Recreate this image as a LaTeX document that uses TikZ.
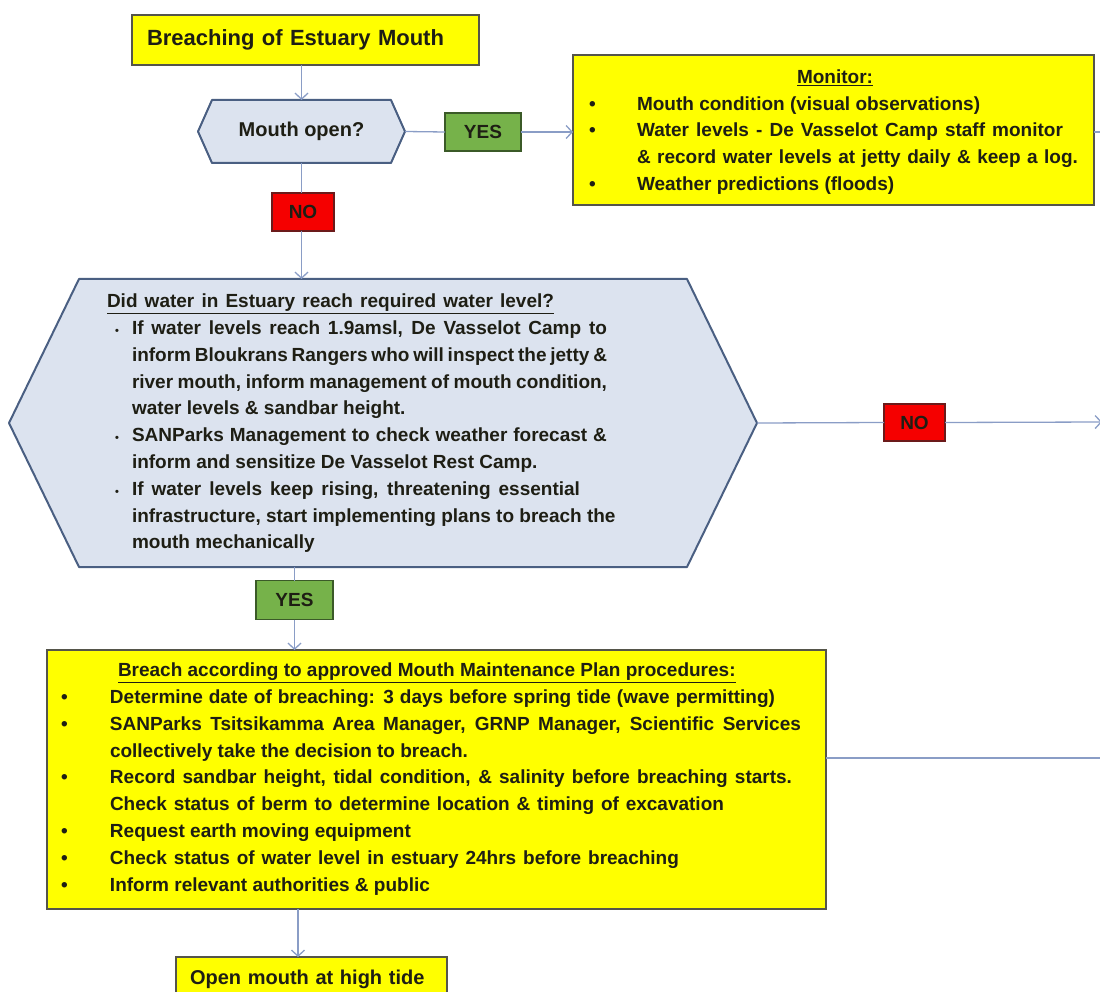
\documentclass[tikz,border=0pt]{standalone}
\usepackage{fontspec}
\setmainfont{Liberation Sans}
\usetikzlibrary{arrows.meta,backgrounds}

\definecolor{boxyellow}{HTML}{FFFF00}
\definecolor{boxedge}{HTML}{55554A}
\definecolor{hexfill}{HTML}{DCE3EF}
\definecolor{hexedge}{HTML}{4A5F82}
\definecolor{wirecol}{HTML}{8A9DC6}
\definecolor{yesfill}{HTML}{76B24A}
\definecolor{yesedge}{HTML}{3B5A28}
\definecolor{nofill}{HTML}{F50000}
\definecolor{noedge}{HTML}{6B1A1A}
\definecolor{ink}{HTML}{1E1E14}

% body text: bold sans, fixed line pitch
\newcommand{\bodyfont}{\fontsize{19}{26.8}\selectfont\bfseries}
% bullets for the hexagon list and for the box lists
\newcommand{\hexbullet}{\makebox[25pt][l]{\hspace*{8pt}{\fontsize{11}{11}\selectfont\textbullet}}}
\newcommand{\hexindent}{\hspace*{25pt}}
\newcommand{\boxbullet}[1]{\makebox[#1][l]{\textbullet}}
% a line spread to a given width (justified line)
\newcommand{\spread}[2]{\makebox[#1][s]{#2}}

\tikzset{
  yellowbox/.style={draw=boxedge, line width=1.6pt, fill=boxyellow, inner sep=0pt, outer sep=0pt, text=ink},
  hexnode/.style={inner sep=0pt, outer sep=0pt, text=ink},
  hexline/.style={draw=hexedge, line width=2pt, fill=hexfill, line join=round},
  tag/.style={line width=1.4pt, inner sep=0pt, outer sep=0pt, text=ink,
              font=\fontsize{19}{19}\selectfont\bfseries},
  yestag/.style={tag, fill=yesfill, draw=yesedge},
  notag/.style={tag, fill=nofill, draw=noedge},
  wire/.style={draw=wirecol, line width=1.3pt},
  flow/.style={wire, -{Straight Barb[length=6pt,width=13pt]}},
  textblock/.style={anchor=north west, inner sep=0pt, outer sep=0pt, align=left,
                    font=\bodyfont, text=ink}
}

\begin{document}
\begin{tikzpicture}[x=1pt, y=-1pt]
\useasboundingbox (0,0) rectangle (1100,992);

% ---- start box ----
\node[yellowbox, minimum width=347pt, minimum height=50pt, text width=317pt, align=left,
      font=\fontsize{22}{22}\selectfont\bfseries] (start) at (305.5,40) {Breaching of Estuary Mouth};

% ---- first decision ----
\node[hexnode, minimum width=207pt, minimum height=63pt,
      font=\fontsize{20}{20}\selectfont\bfseries] (q1) at (301.5,131.5) {Mouth open?};
\begin{scope}[on background layer]
  \draw[hexline] (q1.west) -- ([xshift=14pt]q1.north west) -- ([xshift=-14pt]q1.north east)
    -- (q1.east) -- ([xshift=-14pt]q1.south east) -- ([xshift=14pt]q1.south west) -- cycle;
\end{scope}

\node[yestag, minimum width=76pt, minimum height=38pt] (yes1) at (483,132) {YES};
\node[notag, minimum width=62pt, minimum height=38pt] (no1) at (303,212) {NO};

% ---- monitoring box ----
\node[yellowbox, minimum width=521pt, minimum height=150pt] (mon) at (833.5,130) {};
\node[textblock] (montext) at (589,69.5) {%
  \hspace*{208pt}\underline{Monitor:}\\
  \boxbullet{48pt}Mouth condition (visual observations)\\
  \boxbullet{48pt}\spread{426pt}{Water levels - De Vasselot Camp staff monitor}\\
  \hspace*{48pt}\spread{441pt}{\& record water levels at jetty daily \& keep a log.}\\
  \boxbullet{48pt}Weather predictions (floods)};

% ---- second decision ----
\node[hexnode, minimum width=748pt, minimum height=288pt] (q2) at (383,423) {};
\begin{scope}[on background layer]
  \draw[hexline] (q2.west) -- ([xshift=70pt]q2.north west) -- ([xshift=-70pt]q2.north east)
    -- (q2.east) -- ([xshift=-70pt]q2.south east) -- ([xshift=70pt]q2.south west) -- cycle;
\end{scope}
\node[textblock] (q2text) at (107,294) {%
  \underline{\spread{447pt}{Did water in Estuary reach required water level?}}\\
  \hexbullet\spread{475pt}{If water levels reach 1.9amsl, De Vasselot Camp to}\\
  \hexindent\spread{475pt}{inform Bloukrans Rangers who will inspect the jetty \&}\\
  \hexindent\spread{475pt}{river mouth, inform management of mouth condition,}\\
  \hexindent water levels \& sandbar height.\\
  \hexbullet\spread{475pt}{SANParks Management to check weather forecast \&}\\
  \hexindent inform and sensitize De Vasselot Rest Camp.\\
  \hexbullet\spread{448pt}{If water levels keep rising, threatening essential}\\
  \hexindent infrastructure, start implementing plans to breach the\\
  \hexindent mouth mechanically};

\node[notag, minimum width=61pt, minimum height=37pt] (no2) at (914.5,422.5) {NO};
\node[yestag, minimum width=77pt, minimum height=39pt] (yes2) at (294.5,600) {YES};

% ---- breaching procedure ----
\node[yellowbox, minimum width=779pt, minimum height=259pt] (breach) at (436.5,779.5) {};
\node[textblock] (breachtext) at (61,663) {%
  \hspace*{57pt}\underline{Breach according to approved Mouth Maintenance Plan procedures:}\\
  \boxbullet{49pt}\spread{665pt}{Determine date of breaching: 3 days before spring tide (wave permitting)}\\
  \boxbullet{49pt}\spread{691pt}{SANParks Tsitsikamma Area Manager, GRNP Manager, Scientific Services}\\
  \hspace*{49pt}collectively take the decision to breach.\\
  \boxbullet{49pt}\spread{682pt}{Record sandbar height, tidal condition, \& salinity before breaching starts.}\\
  \hspace*{49pt}\spread{614pt}{Check status of berm to determine location \& timing of excavation}\\
  \boxbullet{49pt}Request earth moving equipment\\
  \boxbullet{49pt}\spread{569pt}{Check status of water level in estuary 24hrs before breaching}\\
  \boxbullet{49pt}Inform relevant authorities \& public};

\node[yellowbox, minimum width=271pt, minimum height=44pt, text width=243pt, align=left,
      font=\fontsize{20}{20}\selectfont\bfseries] (open) at (311.5,979) {Open mouth at high tide};

% ---- connectors ----
\coordinate (exitM) at (1102,132);
\coordinate (exitA) at (1102,422);
\coordinate (exitB) at (1102,758);
\coordinate (dropx) at (298,0);

\draw[flow] (start.south -| q1.north) -- (q1.north);
\draw[wire] (q1.east) -- (yes1.west);
\draw[flow] (yes1.east) -- (yes1.east -| mon.west);
\draw[wire] (mon.east |- exitM) -- (exitM);
\draw[wire] (q1.south) -- (q1.south |- no1.north);
\draw[flow] (no1.south -| q1.south) -- (q1.south |- q2.north);
\draw[wire] (q2.east) -- (no2.west);
\draw[flow] (no2.east) -- (exitA);
\draw[wire] (q2.south -| yes2) -- (yes2.north);
\draw[flow] (yes2.south) -- (yes2.south |- breach.north);
\draw[wire] (breach.east |- exitB) -- (exitB);
\draw[flow] (breach.south -| dropx) -- (open.north -| dropx);
\end{tikzpicture}
\end{document}
